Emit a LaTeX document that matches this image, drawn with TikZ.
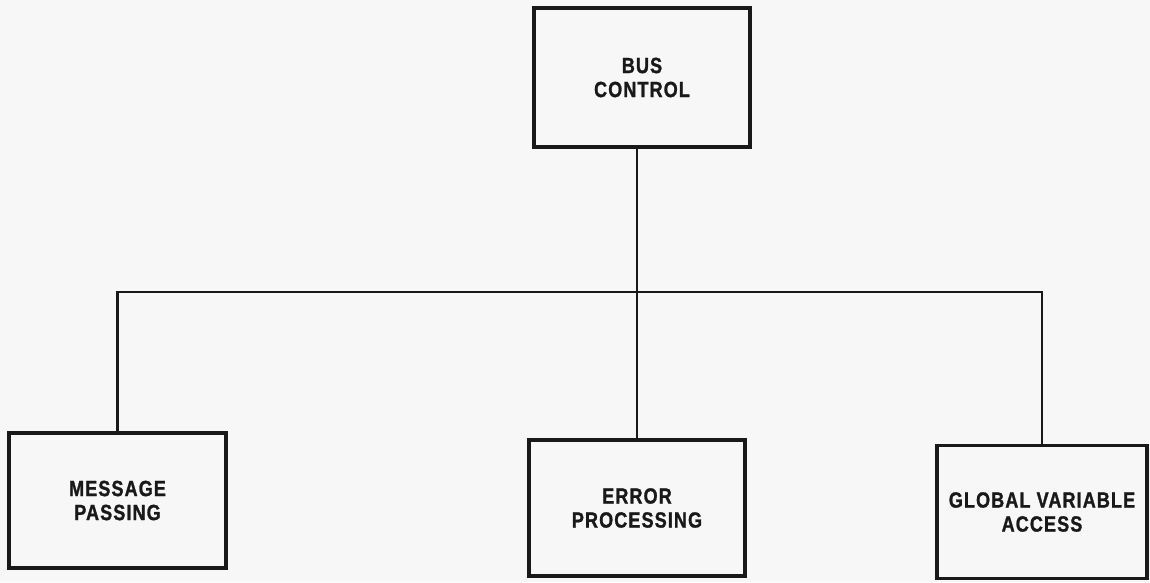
\documentclass[tikz,border=0pt]{standalone}
\usepackage{fontspec}
\setmainfont{Liberation Sans}
\newfontfamily\boxfont{Liberation Sans}[FakeStretch=0.82, LetterSpace=5, FakeBold=1.2]
\begin{document}
\begin{tikzpicture}[x=1pt,y=-1pt,
  box/.style={draw=black!90, line width=3.4pt, minimum width=#1, align=center,
    font=\boxfont\bfseries\fontsize{22}{24}\selectfont, text=black!90},
  box/.default=216pt,
  conn/.style={draw=black!90, line width=2.4pt}]
\fill[black!3] (0,0) rectangle (1150,582);
\useasboundingbox (0,0) rectangle (1150,582);
\node[box, minimum height=139pt] (bus) at (642,77.5) {BUS\\CONTROL};
\node[box=217pt, minimum height=135pt] (msg) at (117.5,500.5) {MESSAGE\\PASSING};
\node[box, minimum height=136pt] (err) at (637,508) {ERROR\\PROCESSING};
\node[box=210pt, minimum height=133pt] (glob) at (1042,512) {GLOBAL VARIABLE\\ACCESS};
\coordinate (bar) at (637,292);
\draw[conn] (bar |- bus.south) -- (bar |- err.north);
\draw[conn, line join=miter] (msg.north) -- (msg.north |- bar) -- (glob.north |- bar) -- (glob.north);
\end{tikzpicture}
\end{document}
